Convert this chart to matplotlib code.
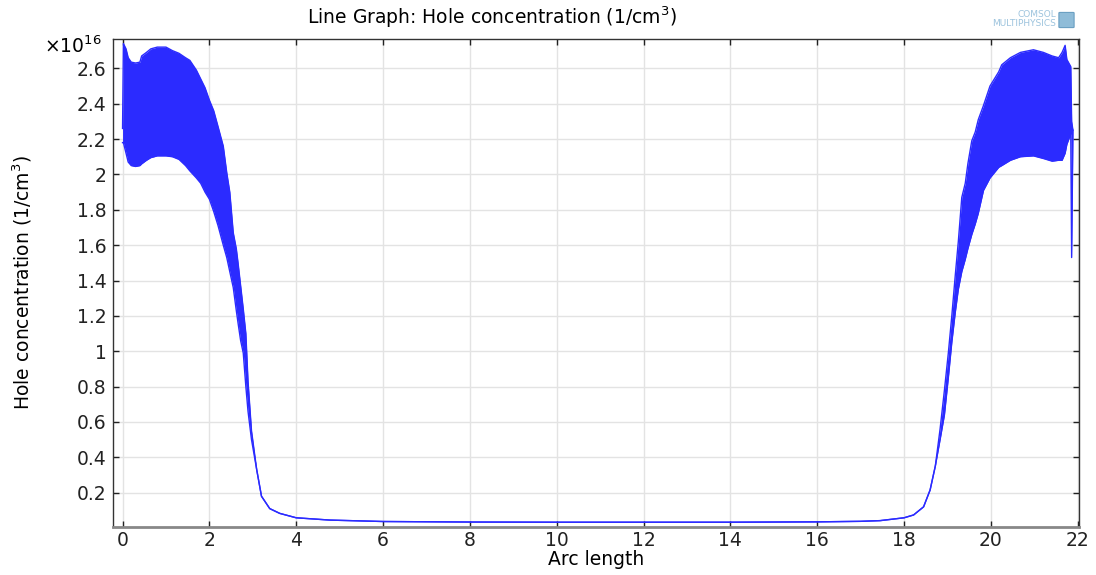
import numpy as np
import matplotlib
matplotlib.use("Agg")
import matplotlib.pyplot as plt
from matplotlib.patches import FancyBboxPatch
from matplotlib.ticker import FuncFormatter

# 数据：沿弧长的空穴浓度（单位 1e16 1/cm^3），振荡区用上下包络表示
arc_len = [0.00, 0.02, 0.08, 0.13, 0.20, 0.30, 0.40, 0.44, 0.55, 0.65,
           0.80, 1.00, 1.15, 1.30, 1.45, 1.55, 1.70, 1.80, 1.90, 2.00,
           2.10, 2.20, 2.32, 2.40, 2.47, 2.55, 2.62, 2.66, 2.72, 2.78,
           2.84, 2.89, 2.97, 3.09, 3.20, 3.39, 3.62, 4.00, 4.78, 6.00,
           8.00, 10.0, 12.0, 14.0, 16.0, 17.0, 17.45, 18.0, 18.22, 18.45,
           18.60, 18.72, 18.83, 18.93, 19.02, 19.10, 19.18, 19.25, 19.33, 19.41,
           19.47, 19.56, 19.64, 19.71, 19.83, 19.98, 20.18, 20.25, 20.45, 20.68,
           20.98, 21.21, 21.41, 21.56, 21.64, 21.71, 21.75, 21.84, 21.86, 21.89]

conc_upper = [2.26, 2.74, 2.71, 2.66, 2.635, 2.63, 2.635, 2.67, 2.69, 2.71,
              2.72, 2.72, 2.70, 2.685, 2.66, 2.645, 2.59, 2.54, 2.49, 2.42,
              2.36, 2.27, 2.16, 2.01, 1.90, 1.67, 1.58, 1.50, 1.37, 1.24,
              1.10, 0.83, 0.55, 0.33, 0.18, 0.11, 0.083, 0.058, 0.045, 0.037,
              0.034, 0.033, 0.033, 0.033, 0.035, 0.038, 0.042, 0.058, 0.074, 0.12,
              0.215, 0.35, 0.56, 0.78, 0.99, 1.20, 1.43, 1.62, 1.87, 1.95,
              2.06, 2.19, 2.24, 2.31, 2.39, 2.50, 2.58, 2.62, 2.66, 2.69,
              2.705, 2.69, 2.67, 2.66, 2.69, 2.73, 2.65, 2.61, 2.30, 2.25]

conc_lower = [2.18, 2.18, 2.12, 2.07, 2.05, 2.045, 2.05, 2.06, 2.08, 2.095,
              2.105, 2.105, 2.10, 2.085, 2.05, 2.02, 1.98, 1.95, 1.90, 1.86,
              1.79, 1.71, 1.60, 1.53, 1.45, 1.36, 1.23, 1.16, 1.06, 0.99,
              0.80, 0.66, 0.50, 0.33, 0.18, 0.11, 0.083, 0.058, 0.045, 0.037,
              0.034, 0.033, 0.033, 0.033, 0.035, 0.038, 0.042, 0.058, 0.074, 0.12,
              0.215, 0.35, 0.50, 0.64, 0.85, 1.05, 1.22, 1.35, 1.45, 1.52,
              1.58, 1.66, 1.72, 1.78, 1.91, 1.98, 2.04, 2.05, 2.08, 2.10,
              2.105, 2.09, 2.075, 2.08, 2.08, 2.12, 2.17, 2.23, 1.53, 2.25]

x_ticks = np.arange(0, 23, 2)
y_ticks = np.arange(0.2, 2.61, 0.2)
line_color = "#2b2bff"
fs = 13.5

fig = plt.figure(figsize=(10.96, 5.75), dpi=100)
ax = fig.add_axes([0.1031, 0.0835, 0.8814, 0.8487])

ax.fill_between(arc_len, conc_lower, conc_upper, color=line_color, linewidth=0)
ax.plot(arc_len, conc_upper, color=line_color, linewidth=1)
ax.plot(arc_len, conc_lower, color=line_color, linewidth=1)

ax.set_xlim(-0.22, 22.03)
ax.set_ylim(0.006, 2.766)
ax.set_xticks(x_ticks)
ax.set_yticks(y_ticks)
ax.yaxis.set_major_formatter(FuncFormatter(lambda v, p: "%g" % round(v, 2)))
ax.xaxis.set_major_formatter(FuncFormatter(lambda v, p: "%g" % v))

ax.grid(True, color="#e3e3e3", linewidth=1)
ax.set_axisbelow(True)
ax.tick_params(direction="in", length=4, width=1, top=True, right=True,
               labelsize=fs, colors="#222222")
ax.tick_params(axis="x", pad=3)
ax.tick_params(axis="y", pad=4.5)
for side in ["left", "top", "right"]:
    ax.spines[side].set_color("#333333")
    ax.spines[side].set_linewidth(1)
ax.spines["bottom"].set_color("#888888")
ax.spines["bottom"].set_linewidth(2)

ax.set_xlabel("Arc length", fontsize=fs, va="center")
ax.set_ylabel("Hole concentration (1/cm$^3$)", fontsize=fs, va="center")
ax.xaxis.set_label_coords(0.5, -0.0666)
ax.yaxis.set_label_coords(-0.094, 0.5)

# 标题（相对整幅图定位）
fig.text(492 / 1096, 1 - 17 / 575, "Line Graph: Hole concentration (1/cm$^3$)",
         fontsize=fs, ha="center", va="center")

# 科学计数法的倍数标注
ax.text(-0.012, 0.985, r"$\times$10$^{16}$", transform=ax.transAxes,
        ha="right", va="center", fontsize=fs)

# COMSOL 标志
fig.text(1056 / 1096, 1 - 19 / 575, "COMSOL\nMULTIPHYSICS", color="#9cc3dd",
         fontsize=6.5, ha="right", va="center", linespacing=0.9)
logo = FancyBboxPatch((1060 / 1096, 1 - 27 / 575), 13 / 1096, 14 / 575,
                      boxstyle="round,pad=0.001", transform=fig.transFigure,
                      facecolor="#8fbcd8", edgecolor="#6a9fc2", linewidth=0.8)
fig.add_artist(logo)

plt.savefig("out.png", dpi=100)
